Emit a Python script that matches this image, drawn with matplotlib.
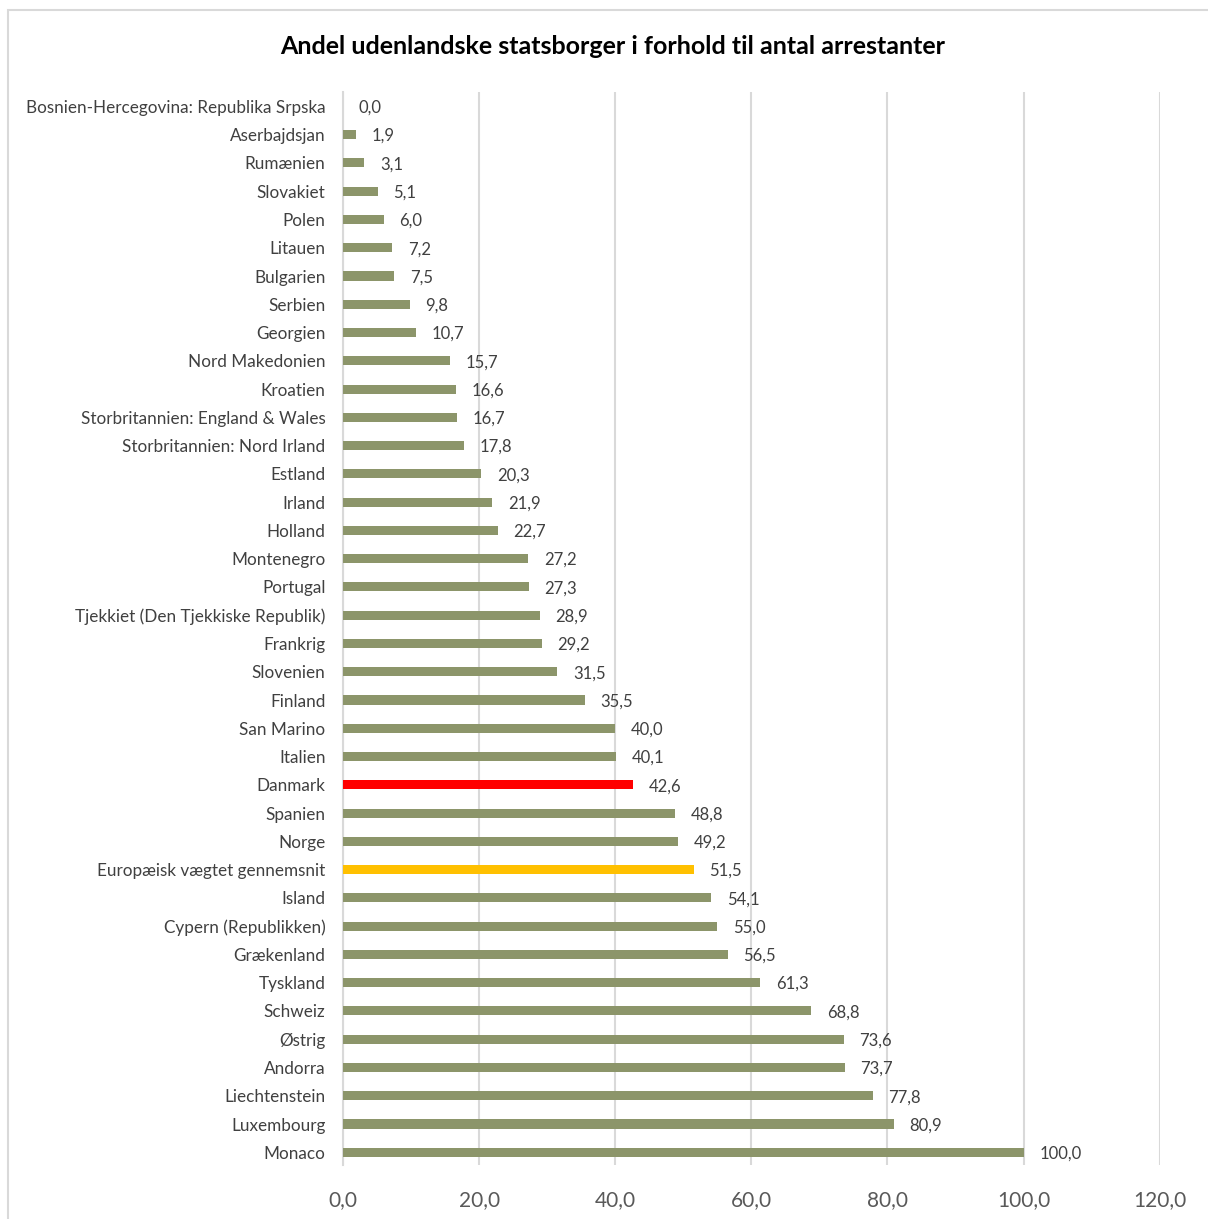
# Andel udenlandske statsborgere - horizontal bar chart
import matplotlib.pyplot as plt
from matplotlib.patches import Rectangle

plt.rcParams['font.family'] = ['Lato', 'DejaVu Sans']

countries = ['Bosnien-Hercegovina: Republika Srpska', 'Aserbajdsjan', 'Rumænien', 'Slovakiet',
             'Polen', 'Litauen', 'Bulgarien', 'Serbien', 'Georgien', 'Nord Makedonien', 'Kroatien',
             'Storbritannien: England & Wales', 'Storbritannien: Nord Irland', 'Estland', 'Irland',
             'Holland', 'Montenegro', 'Portugal', 'Tjekkiet (Den Tjekkiske Republik)', 'Frankrig',
             'Slovenien', 'Finland', 'San Marino', 'Italien', 'Danmark', 'Spanien', 'Norge',
             'Europæisk vægtet gennemsnit', 'Island', 'Cypern (Republikken)', 'Grækenland',
             'Tyskland', 'Schweiz', 'Østrig', 'Andorra', 'Liechtenstein', 'Luxembourg', 'Monaco']
values = [0.0, 1.9, 3.1, 5.1, 6.0, 7.2, 7.5, 9.8, 10.7, 15.7, 16.6, 16.7, 17.8, 20.3, 21.9,
          22.7, 27.2, 27.3, 28.9, 29.2, 31.5, 35.5, 40.0, 40.1, 42.6, 48.8, 49.2, 51.5, 54.1,
          55.0, 56.5, 61.3, 68.8, 73.6, 73.7, 77.8, 80.9, 100.0]
x_ticks = [0, 20, 40, 60, 80, 100, 120]

green = '#8C956A'
colors = []
for c in countries:
    if c == 'Danmark':
        colors.append('#FF0000')
    elif c.startswith('Europæisk'):
        colors.append('#FFC000')
    else:
        colors.append(green)

fig = plt.figure(figsize=(12.08, 12.19), dpi=100)
ax = fig.add_axes([0.284, 0.0443, 0.676, 0.880])

pos = list(range(len(countries)))
ax.barh(pos, values, height=0.32, color=colors, zorder=3)

for p, v in zip(pos, values):
    ax.text(v + 2.3, p + 0.05, f'{v:.1f}'.replace('.', ','), va='center', ha='left',
            fontsize=12, color='#404040')

ax.set_yticks(pos)
ax.set_yticklabels(countries, fontsize=12.3, color='#404040')
ax.set_ylim(37.45, -0.5)
ax.set_xlim(0, 120)
ax.set_xticks(x_ticks)
ax.set_xticklabels([f'{t:.1f}'.replace('.', ',') for t in x_ticks], fontsize=15, color='#595959')
ax.tick_params(axis='y', length=0, pad=12.7)
ax.tick_params(axis='x', length=0, pad=18)

ax.grid(axis='x', color='#D9D9D9', lw=1.5, zorder=0)
for s in ['top', 'right', 'bottom']:
    ax.spines[s].set_visible(False)
ax.spines['left'].set_color('#D9D9D9')
ax.spines['left'].set_linewidth(1.5)

fig.text(0.507, 0.962, 'Andel udenlandske statsborger i forhold til antal arrestanter',
         ha='center', va='center', fontsize=18, fontweight='bold', color='black')

fig.patches.append(Rectangle((8 / 1208, -0.01), 1.0, 1 - 10 / 1219 + 0.01,
                             transform=fig.transFigure, fill=False,
                             edgecolor='#D9D9D9', lw=1.5))

fig.savefig('out.png', dpi=100)
